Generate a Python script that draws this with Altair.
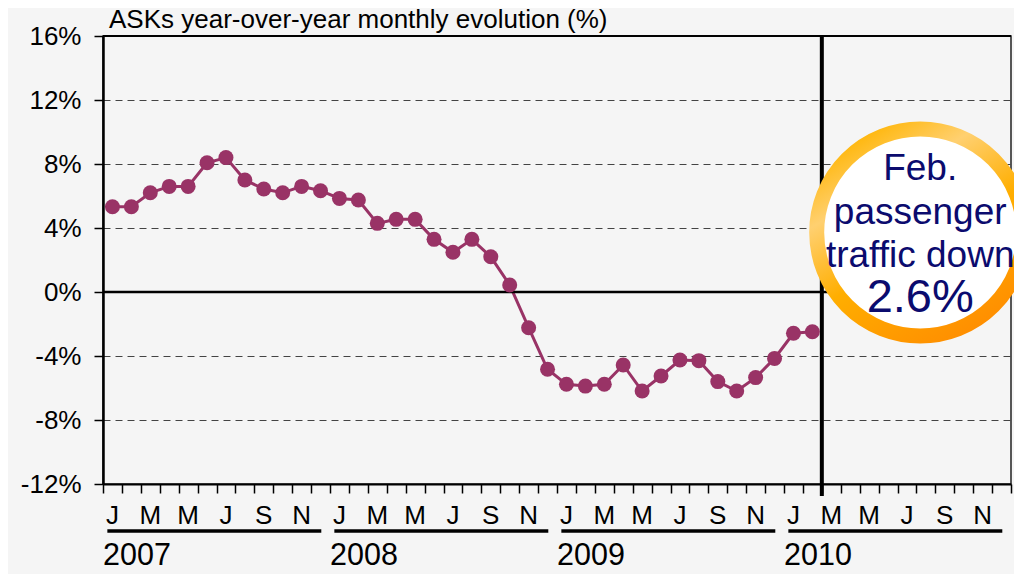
import altair as alt
import pandas as pd

# ---- data ----
month_letters = ["J", "F", "M", "A", "M", "J", "J", "A", "S", "O", "N", "D"]
years = [2007, 2008, 2009, 2010]
ask_values = [5.33, 5.33, 6.2, 6.6, 6.6, 8.08, 8.4, 7.0, 6.44, 6.2, 6.6, 6.33,
              5.85, 5.75, 4.29, 4.54, 4.54, 3.29, 2.48, 3.29, 2.2, 0.44, -2.23, -4.83,
              -5.77, -5.88, -5.77, -4.56, -6.19, -5.25, -4.25, -4.29, -5.6, -6.19, -5.35, -4.15,
              -2.58, -2.48]
y_ticks = [-12, -8, -4, 0, 4, 8, 12, 16]
title_text = "ASKs year-over-year monthly evolution (%)"
badge_lines = ["Feb.", "passenger", "traffic down"]
badge_value = "2.6%"
badge_pos = {"bx": 43.2, "by": 3.72}
separator_month = 38

FONT = "Liberation Sans"
n_months = len(years) * 12

series = pd.DataFrame({"m": [i + 0.5 for i in range(len(ask_values))], "v": ask_values})
month_df = pd.DataFrame({
    "m": [i + 0.5 for i in range(n_months) if i % 2 == 0],
    "lab": [month_letters[i % 12] for i in range(n_months) if i % 2 == 0],
})
year_df = pd.DataFrame({
    "m": [i * 12 for i in range(len(years))],
    "bar1": [i * 12 + 11.54 for i in range(len(years))],
    "year": [str(y) for y in years],
})
year_df["bar0"] = year_df["m"] + 0.23
badge_df = pd.DataFrame([badge_pos]).rename(columns={"bx": "m", "by": "v"})

xscale = alt.Scale(domain=[0, n_months], nice=False, zero=False)
yscale = alt.Scale(domain=[-12, 16], nice=False)

xaxis = alt.Axis(values=list(range(n_months + 1)), tickCount=100, labels=False, title=None,
                 grid=False, tickSize=9, tickWidth=1.5, tickColor="black",
                 domainColor="black", domainWidth=2)
yaxis = alt.Axis(values=y_ticks, tickCount=20, labelExpr="datum.value + '%'", title=None,
                 labelFontSize=26, labelFont=FONT, labelColor="black", labelPadding=13,
                 tickSize=9, tickWidth=1.5, tickColor="black", domainColor="black",
                 domainWidth=2.5, grid=True, gridDash=[7, 5], gridColor="#444444",
                 gridWidth=1)


def X(field):
    return alt.X(field, type="quantitative", scale=xscale, axis=xaxis)


def Y(field):
    return alt.Y(field, type="quantitative", scale=yscale, axis=yaxis)


line = alt.Chart(series).mark_line(color="#993366", strokeWidth=3).encode(
    x=X("m"), y=Y("v"))
points = alt.Chart(series).mark_circle(color="#993366", size=225, opacity=1).encode(
    x=X("m"), y=Y("v"))

zero_rule = alt.Chart().mark_rule(color="black", strokeWidth=2.5).encode(y=alt.datum(0))
top_rule = alt.Chart().mark_rule(color="black", strokeWidth=2).encode(y=alt.datum(16))
sep_rule = alt.Chart().mark_rule(color="black", strokeWidth=4).encode(
    x=alt.datum(separator_month), y=alt.value(0), y2=alt.value(460)
)

title_mark = alt.Chart().mark_text(
    text=title_text, font=FONT, fontSize=26, color="black", align="left",
    baseline="alphabetic"
).encode(x=alt.value(6), y=alt.value(-8.5))

month_text = alt.Chart(month_df).mark_text(
    font=FONT, fontSize=26, color="black", baseline="middle", align="center"
).encode(x=X("m"), y=alt.value(480), text="lab:N")

year_bars = alt.Chart(year_df).mark_rule(color="black", strokeWidth=3.5).encode(
    x=X("bar0"), x2="bar1:Q", y=alt.value(495)
)
year_text = alt.Chart(year_df).mark_text(
    font=FONT, fontSize=30.5, color="black", baseline="middle", align="left"
).encode(x=X("m"), y=alt.value(520), text="year:N")

ring = alt.LinearGradient(
    gradient="linear", x1=0.2, y1=0, x2=0.8, y2=1,
    stops=[alt.GradientStop(offset=0, color="#FFB400"),
           alt.GradientStop(offset=0.25, color="#FFD070"),
           alt.GradientStop(offset=0.55, color="#FFAE00"),
           alt.GradientStop(offset=1, color="#FF8C00")],
)
badge = alt.Chart(badge_df).mark_circle(
    size=42850, fill="white", fillOpacity=1, stroke=ring, strokeWidth=15, strokeOpacity=1
).encode(x=X("m"), y=Y("v"))
badge_text = alt.Chart(badge_df).mark_text(
    text=badge_lines, font=FONT, fontSize=37, lineHeight=43.5, color="#0B0B6E",
    align="center", baseline="middle", dy=-63
).encode(x=X("m"), y=Y("v"))
badge_num = alt.Chart(badge_df).mark_text(
    text=badge_value, font=FONT, fontSize=47, color="#0B0B6E",
    align="center", baseline="middle", dy=66
).encode(x=X("m"), y=Y("v"))

chart = alt.layer(
    line, zero_rule, top_rule, sep_rule, points, month_text, year_bars, year_text,
    badge, badge_text, badge_num, title_mark
).properties(
    width=908, height=448,
    autosize=alt.AutoSizeParams(type="none"),
    padding={"left": 95, "top": 28, "right": 3, "bottom": 90},
).configure(background="#f5f5f5").configure_view(
    stroke="#222222", strokeWidth=1.5, fill="#f5f5f5"
)

chart.save("out.html", embed_options={"renderer": "svg", "actions": False})
